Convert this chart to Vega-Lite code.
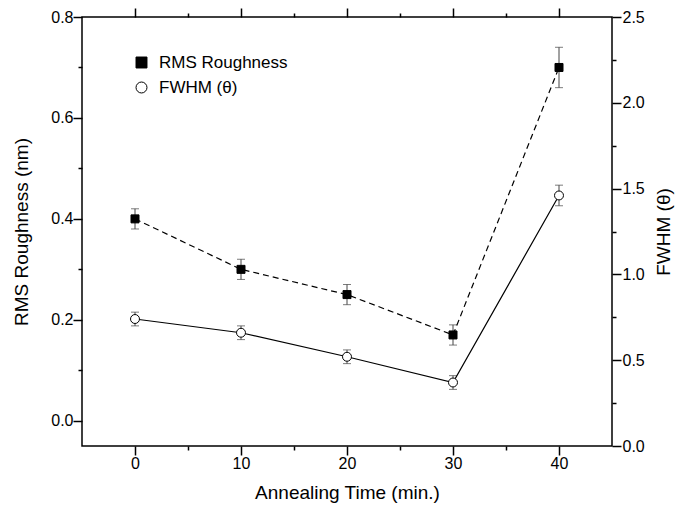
{
  "$schema": "https://vega.github.io/schema/vega-lite/v6.json",
  "width": 530,
  "height": 429,
  "autosize": "none",
  "padding": {"left": 82, "top": 17, "right": 71, "bottom": 62},
  "background": "white",
  "config": {
    "font": "Liberation Sans",
    "view": {"stroke": "black", "strokeWidth": 1.5},
    "axis": {
      "domain": false,
      "ticks": true, "tickColor": "black", "tickWidth": 1.5, "tickSize": 9, "offset": 0, "zindex": 1,
      "labelColor": "black", "titleColor": "black",
      "labelFontSize": 16, "titleFontSize": 19, "titleFontWeight": "normal",
      "labelFont": "Liberation Sans", "titleFont": "Liberation Sans",
      "grid": false
    }
  },
  "datasets": {
    "rms": [
      {"series": "RMS Roughness", "t": 0, "v": 0.40, "lo": 0.38, "hi": 0.42},
      {"series": "RMS Roughness", "t": 10, "v": 0.30, "lo": 0.28, "hi": 0.32},
      {"series": "RMS Roughness", "t": 20, "v": 0.25, "lo": 0.23, "hi": 0.27},
      {"series": "RMS Roughness", "t": 30, "v": 0.17, "lo": 0.15, "hi": 0.19},
      {"series": "RMS Roughness", "t": 40, "v": 0.70, "lo": 0.66, "hi": 0.74}
    ],
    "fwhm": [
      {"series": "FWHM (θ)", "t": 0, "v": 0.74, "lo": 0.70, "hi": 0.78},
      {"series": "FWHM (θ)", "t": 10, "v": 0.66, "lo": 0.62, "hi": 0.70},
      {"series": "FWHM (θ)", "t": 20, "v": 0.52, "lo": 0.48, "hi": 0.56},
      {"series": "FWHM (θ)", "t": 30, "v": 0.37, "lo": 0.33, "hi": 0.41},
      {"series": "FWHM (θ)", "t": 40, "v": 1.46, "lo": 1.40, "hi": 1.52}
    ]
  },
  "layer": [
    {
      "data": {"name": "rms"},
      "layer": [
        {
          "mark": {"type": "rule", "color": "#444", "strokeWidth": 1},
          "encoding": {
            "x": {"field": "t", "type": "quantitative", "scale": {"domain": [-5, 45], "nice": false, "zero": false},
              "axis": {
                "orient": "bottom", "title": "Annealing Time (min.)",
                "values": [0, 5, 10, 15, 20, 25, 30, 35, 40],
                "labelExpr": "datum.value % 10 === 0 ? datum.label : ''",
                "domain": false, "ticks": true, "tickSize": 9, "offset": 0, "zindex": 1,
                "tickDash": {"condition": {"test": "datum.value % 10 !== 0", "value": [4, 100]}, "value": [20, 0]},
                "labelPadding": 0, "titlePadding": 12,
                "encode": {"ticks": {"update": {"stroke": {"value": "black"}, "strokeWidth": {"value": 1.5}, "opacity": {"value": 1}}}}
              }},
            "y": {"field": "lo", "type": "quantitative", "scale": {"domain": [-0.05, 0.8], "nice": false, "zero": false},
              "axis": {
                "orient": "left", "title": "RMS Roughness (nm)",
                "values": [0, 0.1, 0.2, 0.3, 0.4, 0.5, 0.6, 0.7, 0.8],
                "format": ".1f",
                "labelExpr": "round(datum.value * 10) % 2 === 0 ? datum.label : ''",
                "domain": false, "ticks": true, "tickSize": 9, "offset": 0, "zindex": 1,
                "tickDash": {"condition": {"test": "round(datum.value * 10) % 2 !== 0", "value": [4, 100]}, "value": [20, 0]},
                "labelPadding": 0, "titlePadding": 19,
                "encode": {"ticks": {"update": {"stroke": {"value": "black"}, "strokeWidth": {"value": 1.5}, "opacity": {"value": 1}}}}
              }},
            "y2": {"field": "hi"}
          }
        },
        {
          "mark": {"type": "tick", "orient": "horizontal", "color": "#444", "thickness": 1, "size": 8},
          "encoding": {
            "x": {"field": "t", "type": "quantitative"},
            "y": {"field": "lo", "type": "quantitative", "title": "RMS Roughness (nm)"}
          }
        },
        {
          "mark": {"type": "tick", "orient": "horizontal", "color": "#444", "thickness": 1, "size": 8},
          "encoding": {
            "x": {"field": "t", "type": "quantitative"},
            "y": {"field": "hi", "type": "quantitative", "title": "RMS Roughness (nm)"}
          }
        },
        {
          "mark": {"type": "line", "color": "black", "strokeDash": [6, 4], "strokeWidth": 1.2},
          "encoding": {
            "x": {"field": "t", "type": "quantitative"},
            "y": {"field": "v", "type": "quantitative", "title": "RMS Roughness (nm)"}
          }
        },
        {
          "mark": {"type": "point", "filled": true, "strokeWidth": 1, "size": 64, "opacity": 1},
          "encoding": {
            "x": {"field": "t", "type": "quantitative"},
            "y": {"field": "v", "type": "quantitative", "title": "RMS Roughness (nm)"},
            "shape": {"field": "series", "type": "nominal",
              "scale": {"domain": ["RMS Roughness", "FWHM (θ)"], "range": ["square", "circle"]},
              "legend": {"orient": "none", "legendX": 51, "legendY": 37, "title": null, "padding": 0,
                "labelFontSize": 17, "labelFont": "Liberation Sans", "labelColor": "black",
                "symbolSize": 120, "symbolStrokeWidth": 1,
                "labelOffset": 9, "rowPadding": 7}},
            "fill": {"field": "series", "type": "nominal",
              "scale": {"domain": ["RMS Roughness", "FWHM (θ)"], "range": ["black", "white"]},
              "legend": {"orient": "none", "legendX": 51, "legendY": 37, "title": null, "padding": 0,
                "labelFontSize": 17, "labelFont": "Liberation Sans", "labelColor": "black",
                "symbolSize": 120, "symbolStrokeWidth": 1,
                "labelOffset": 9, "rowPadding": 7}},
            "stroke": {"field": "series", "type": "nominal",
              "scale": {"domain": ["RMS Roughness", "FWHM (θ)"], "range": ["black", "black"]},
              "legend": {"orient": "none", "legendX": 51, "legendY": 37, "title": null, "padding": 0,
                "labelFontSize": 17, "labelFont": "Liberation Sans", "labelColor": "black",
                "symbolSize": 120, "symbolStrokeWidth": 1,
                "labelOffset": 9, "rowPadding": 7}}
          }
        }
      ]
    },
    {
      "data": {"name": "fwhm"},
      "layer": [
        {
          "mark": {"type": "rule", "color": "#444", "strokeWidth": 1},
          "encoding": {
            "x": {"field": "t", "type": "quantitative",
              "axis": {
                "orient": "top", "title": null, "labels": false,
                "values": [0, 5, 10, 15, 20, 25, 30, 35, 40],
                "domain": false, "ticks": true, "tickSize": 9, "offset": 0, "zindex": 1,
                "tickDash": {"condition": {"test": "datum.value % 10 !== 0", "value": [4, 100]}, "value": [20, 0]},
                "encode": {"ticks": {"update": {"stroke": {"value": "black"}, "strokeWidth": {"value": 1.5}, "opacity": {"value": 1}}}}
              }},
            "y": {"field": "lo", "type": "quantitative", "scale": {"domain": [0, 2.5], "nice": false},
              "axis": {
                "orient": "right", "title": "FWHM (θ)", "titleAngle": -90, "titleBaseline": "top",
                "values": [0, 0.25, 0.5, 0.75, 1, 1.25, 1.5, 1.75, 2, 2.25, 2.5],
                "labelExpr": "round(datum.value * 4) % 2 === 0 ? format(datum.value, '.1f') : ''",
                "domain": false, "ticks": true, "tickSize": 9, "offset": 0, "zindex": 1,
                "tickDash": {"condition": {"test": "round(datum.value * 4) % 2 !== 0", "value": [4, 100]}, "value": [20, 0]},
                "labelPadding": 1, "titlePadding": 10,
                "encode": {"ticks": {"update": {"stroke": {"value": "black"}, "strokeWidth": {"value": 1.5}, "opacity": {"value": 1}}}}
              }},
            "y2": {"field": "hi"}
          }
        },
        {
          "mark": {"type": "tick", "orient": "horizontal", "color": "#444", "thickness": 1, "size": 8},
          "encoding": {
            "x": {"field": "t", "type": "quantitative"},
            "y": {"field": "lo", "type": "quantitative", "title": "FWHM (θ)"}
          }
        },
        {
          "mark": {"type": "tick", "orient": "horizontal", "color": "#444", "thickness": 1, "size": 8},
          "encoding": {
            "x": {"field": "t", "type": "quantitative"},
            "y": {"field": "hi", "type": "quantitative", "title": "FWHM (θ)"}
          }
        },
        {
          "mark": {"type": "line", "color": "black", "strokeWidth": 1.2},
          "encoding": {
            "x": {"field": "t", "type": "quantitative"},
            "y": {"field": "v", "type": "quantitative", "title": "FWHM (θ)"}
          }
        },
        {
          "mark": {"type": "point", "filled": true, "strokeWidth": 1, "size": 80, "opacity": 1},
          "encoding": {
            "x": {"field": "t", "type": "quantitative"},
            "y": {"field": "v", "type": "quantitative", "title": "FWHM (θ)"},
            "shape": {"field": "series", "type": "nominal"},
            "fill": {"field": "series", "type": "nominal"},
            "stroke": {"field": "series", "type": "nominal"}
          }
        }
      ]
    }
  ],
  "resolve": {"scale": {"y": "independent"}, "axis": {"x": "independent"}}
}
